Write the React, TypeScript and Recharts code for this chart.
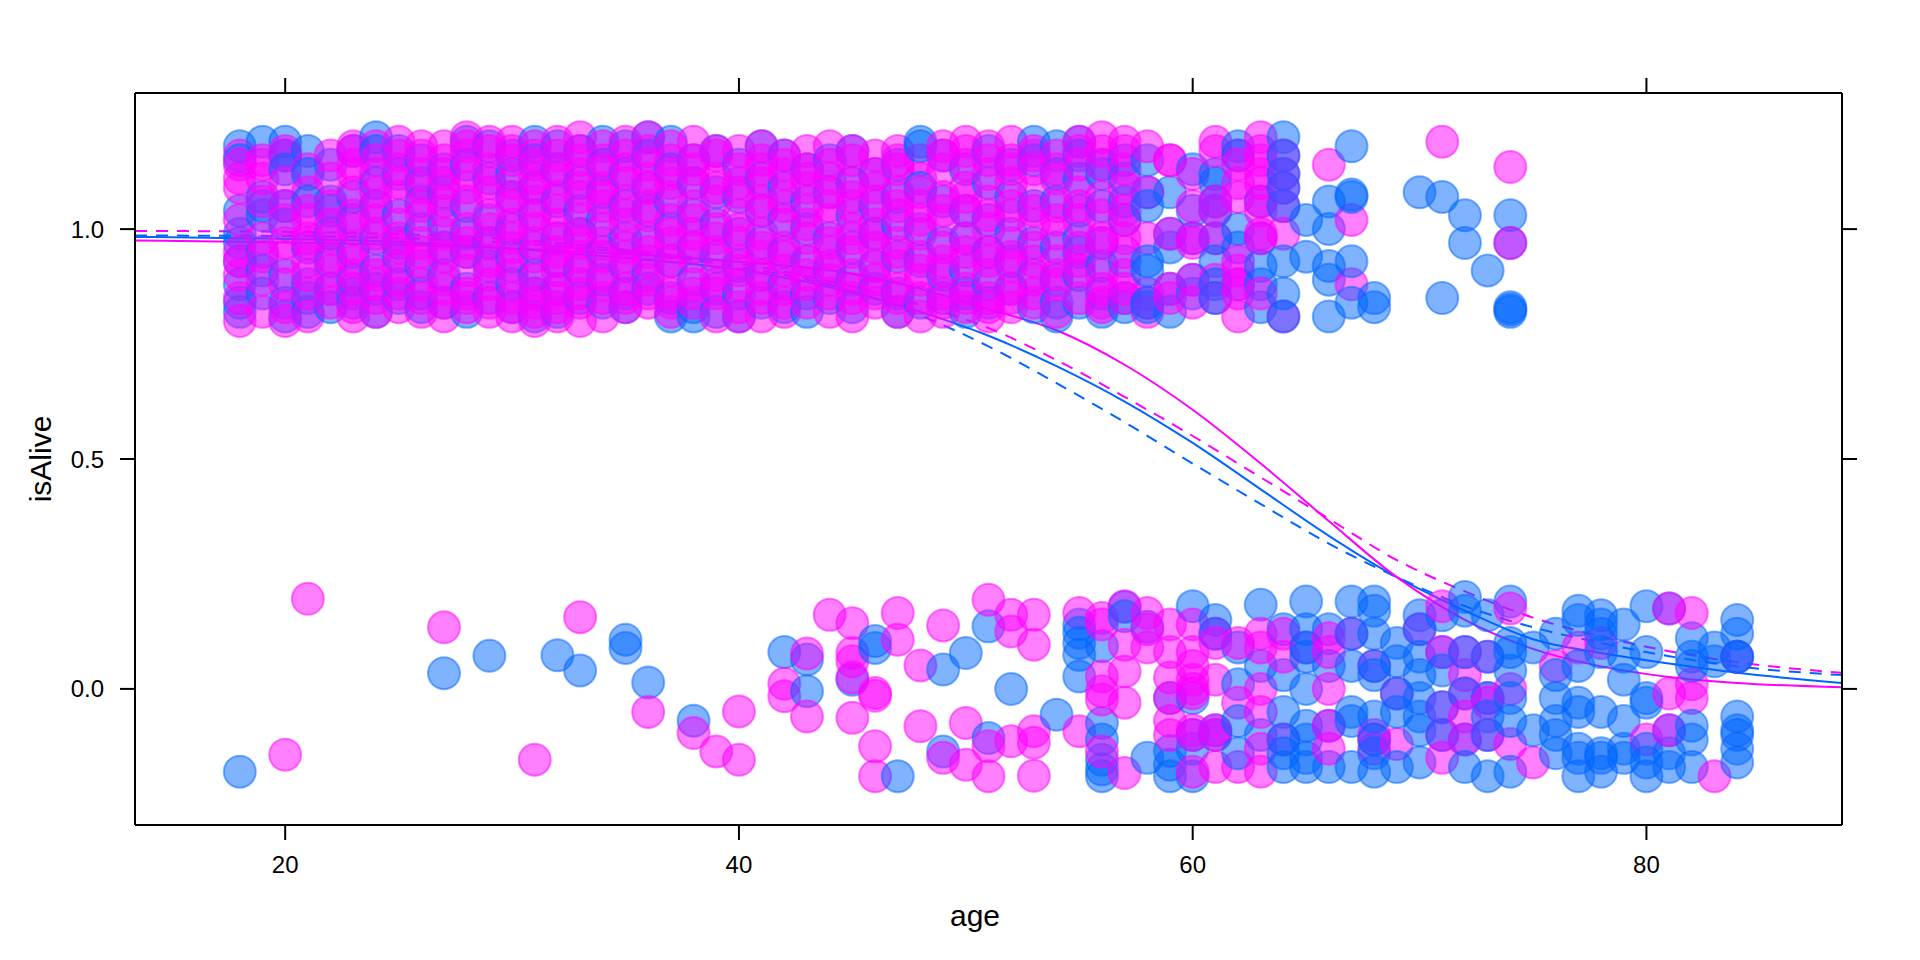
import { ComposedChart, Scatter, Line, XAxis, YAxis, Label } from 'recharts';

// axis ticks
const xTicks = [20, 40, 60, 80];
const yTicks = [0, 0.5, 1];

// fitted curves at these ages
const curveAges = [13.38, 20, 25, 30, 35, 40, 45, 48, 51, 54, 57, 60, 63, 66, 69, 72, 75, 78, 81, 84, 88.62];
const blueFit = [0.983, 0.979, 0.972, 0.958, 0.937, 0.912, 0.862, 0.82, 0.768, 0.702, 0.625, 0.535, 0.434, 0.333, 0.243, 0.17, 0.108, 0.078, 0.055, 0.035, 0.013];
const blueSmooth = [0.986, 0.985, 0.98, 0.97, 0.95, 0.918, 0.865, 0.812, 0.745, 0.665, 0.58, 0.49, 0.402, 0.316, 0.243, 0.18, 0.134, 0.1, 0.071, 0.049, 0.03];
const magentaFit = [0.975, 0.971, 0.966, 0.958, 0.946, 0.929, 0.903, 0.87, 0.826, 0.78, 0.705, 0.607, 0.49, 0.365, 0.243, 0.15, 0.087, 0.049, 0.026, 0.013, 0.0035];
const magentaSmooth = [0.996, 0.994, 0.989, 0.978, 0.955, 0.925, 0.875, 0.835, 0.785, 0.715, 0.635, 0.55, 0.46, 0.37, 0.28, 0.212, 0.155, 0.114, 0.082, 0.058, 0.035];

// jittered isAlive values per age: [age, values]
const aliveBlue: [number, number[]][] = [
  [18, [1.18, 1.15, 1.04, 0.99, 0.97, 0.93, 0.88, 0.84, 0.82]],
  [19, [1.19, 1.07, 1.05, 1.03, 0.95, 0.91, 0.86]],
  [20, [1.19, 1.16, 1.13, 1.05, 1.01, 0.9, 0.84, 0.81]],
  [21, [1.17, 1.12, 1.06, 0.96, 0.88, 0.85, 0.82]],
  [22, [1.14, 1.06, 1.04, 0.99, 0.93, 0.87, 0.83]],
  [23, [1.17, 1.07, 1.02, 0.95, 0.89, 0.86, 0.84]],
  [24, [1.2, 1.17, 1.1, 1.05, 0.98, 0.91, 0.87, 0.82]],
  [25, [1.17, 1.12, 1.03, 0.97, 0.94, 0.88, 0.85]],
  [26, [1.15, 1.1, 1.06, 1.0, 0.92, 0.86, 0.83]],
  [27, [1.13, 1.08, 1.01, 0.96, 0.9, 0.84]],
  [28, [1.19, 1.14, 1.05, 0.99, 0.95, 0.87, 0.82]],
  [29, [1.18, 1.11, 1.02, 0.97, 0.92, 0.85]],
  [30, [1.16, 1.12, 1.07, 1.0, 0.94, 0.88, 0.83]],
  [31, [1.19, 1.15, 1.09, 1.03, 0.96, 0.9, 0.86, 0.81]],
  [32, [1.18, 1.13, 1.06, 0.98, 0.93, 0.87, 0.82]],
  [33, [1.17, 1.1, 1.04, 0.99, 0.91, 0.85]],
  [34, [1.19, 1.14, 1.08, 1.02, 0.95, 0.89, 0.84]],
  [35, [1.18, 1.12, 1.05, 0.98, 0.92, 0.86, 0.83]],
  [36, [1.2, 1.16, 1.09, 1.04, 0.97, 0.9, 0.87]],
  [37, [1.19, 1.13, 1.06, 1.0, 0.93, 0.85, 0.81]],
  [38, [1.15, 1.1, 1.03, 0.96, 0.89, 0.83, 0.81]],
  [39, [1.17, 1.08, 1.01, 0.94, 0.87, 0.82]],
  [40, [1.14, 1.07, 0.99, 0.92, 0.86, 0.81]],
  [41, [1.18, 1.11, 1.04, 0.97, 0.9, 0.84]],
  [42, [1.16, 1.09, 1.02, 0.95, 0.88, 0.83]],
  [43, [1.13, 1.06, 1.0, 0.93, 0.86, 0.82]],
  [44, [1.15, 1.08, 0.98, 0.91, 0.85]],
  [45, [1.17, 1.1, 1.03, 0.96, 0.89, 0.83]],
  [46, [1.12, 1.05, 0.99, 0.92, 0.87]],
  [47, [1.14, 1.07, 1.01, 0.94, 0.86, 0.82]],
  [48, [1.19, 1.18, 1.09, 1.0, 0.93, 0.84]],
  [49, [1.16, 1.06, 0.97, 0.9, 0.85]],
  [50, [1.13, 1.04, 0.98, 0.91, 0.86, 0.82]],
  [51, [1.17, 1.1, 1.02, 0.95, 0.88, 0.84]],
  [52, [1.14, 1.07, 0.99, 0.93, 0.87]],
  [53, [1.19, 1.15, 1.05, 0.97, 0.9, 0.83]],
  [54, [1.18, 1.12, 1.06, 0.96, 0.89, 0.84, 0.81]],
  [55, [1.19, 1.16, 1.11, 1.04, 0.98, 0.95, 0.9, 0.84]],
  [56, [1.14, 1.12, 1.05, 0.97, 0.92, 0.86, 0.82]],
  [57, [1.15, 1.11, 1.06, 1.02, 0.93, 0.85, 0.83]],
  [58, [1.15, 1.08, 1.05, 0.93, 0.91, 0.84, 0.83]],
  [59, [1.08, 0.99, 0.96, 0.87, 0.82]],
  [60, [1.13, 1.04, 0.98, 0.89, 0.86]],
  [61, [1.12, 1.1, 1.06, 1.04, 0.98, 0.93, 0.88, 0.85]],
  [62, [1.18, 1.16, 1.0, 0.96, 0.88]],
  [63, [1.06, 0.98, 0.92, 0.88, 0.83]],
  [64, [1.2, 1.16, 1.12, 1.09, 1.05, 0.93, 0.86, 0.81]],
  [65, [1.02, 0.94]],
  [66, [1.06, 1.0, 0.92, 0.89, 0.81]],
  [67, [1.18, 1.07, 1.075, 0.93, 0.84]],
  [68, [0.85, 0.83]],
  [70, [1.08]],
  [71, [1.07, 0.85]],
  [72, [1.03, 0.97]],
  [73, [0.91]],
  [74, [1.03, 0.97, 0.83, 0.82, 0.825]],
];

const aliveMagenta: [number, number[]][] = [
  [18, [1.16, 1.14, 1.11, 1.09, 1.02, 0.95, 0.93, 0.9, 0.85, 0.8]],
  [19, [1.15, 1.14, 1.11, 1.06, 0.98, 0.94, 0.89, 0.82]],
  [20, [1.17, 1.16, 1.1, 1.05, 1.02, 0.97, 0.94, 0.88, 0.83, 0.8]],
  [21, [1.13, 1.08, 1.04, 1.02, 0.98, 0.97, 0.93, 0.9, 0.86, 0.81]],
  [22, [1.16, 1.11, 1.05, 1.01, 0.98, 0.94, 0.91, 0.87, 0.84]],
  [23, [1.18, 1.17, 1.14, 1.12, 1.08, 1.03, 1.0, 0.96, 0.93, 0.9, 0.87, 0.83, 0.81]],
  [24, [1.18, 1.15, 1.12, 1.08, 1.05, 1.02, 0.99, 0.95, 0.9, 0.88, 0.85, 0.82]],
  [25, [1.19, 1.16, 1.13, 1.1, 1.07, 1.01, 0.98, 0.96, 0.92, 0.89, 0.86, 0.83]],
  [26, [1.18, 1.16, 1.12, 1.09, 1.05, 1.03, 0.97, 0.95, 0.93, 0.88, 0.85, 0.82]],
  [27, [1.18, 1.15, 1.12, 1.1, 1.06, 1.04, 0.99, 0.96, 0.94, 0.89, 0.87, 0.84, 0.81]],
  [28, [1.2, 1.18, 1.16, 1.12, 1.09, 1.06, 1.0, 0.97, 0.95, 0.91, 0.86, 0.85, 0.83]],
  [29, [1.19, 1.17, 1.13, 1.1, 1.08, 1.03, 1.0, 0.97, 0.93, 0.9, 0.88, 0.84, 0.82]],
  [30, [1.19, 1.17, 1.15, 1.1, 1.07, 1.05, 1.01, 0.98, 0.96, 0.92, 0.9, 0.85, 0.83, 0.81]],
  [31, [1.18, 1.16, 1.14, 1.11, 1.09, 1.06, 1.03, 1.0, 0.97, 0.94, 0.89, 0.86, 0.84, 0.82, 0.8]],
  [32, [1.19, 1.16, 1.13, 1.11, 1.07, 1.04, 1.01, 0.98, 0.95, 0.93, 0.91, 0.87, 0.85, 0.83, 0.81]],
  [33, [1.2, 1.17, 1.15, 1.12, 1.09, 1.07, 1.02, 0.99, 0.97, 0.94, 0.92, 0.88, 0.86, 0.84, 0.8]],
  [34, [1.18, 1.15, 1.13, 1.09, 1.07, 1.05, 1.0, 0.97, 0.94, 0.9, 0.88, 0.85, 0.81]],
  [35, [1.19, 1.16, 1.13, 1.1, 1.06, 1.03, 1.01, 0.96, 0.94, 0.92, 0.87, 0.85, 0.83]],
  [36, [1.2, 1.17, 1.14, 1.11, 1.09, 1.05, 1.03, 0.98, 0.95, 0.93, 0.89, 0.86, 0.84]],
  [37, [1.18, 1.15, 1.12, 1.1, 1.07, 1.02, 0.99, 0.97, 0.93, 0.91, 0.86, 0.84, 0.82]],
  [38, [1.19, 1.15, 1.13, 1.1, 1.05, 1.02, 0.99, 0.96, 0.94, 0.88, 0.86, 0.84]],
  [39, [1.17, 1.16, 1.11, 1.09, 1.06, 1.0, 0.98, 0.95, 0.9, 0.88, 0.86, 0.81]],
  [40, [1.17, 1.13, 1.1, 1.08, 1.03, 1.0, 0.97, 0.93, 0.91, 0.88, 0.83, 0.81]],
  [41, [1.18, 1.15, 1.13, 1.1, 1.06, 1.04, 0.99, 0.96, 0.94, 0.9, 0.87, 0.85, 0.81]],
  [42, [1.16, 1.14, 1.12, 1.07, 1.05, 1.01, 0.96, 0.94, 0.91, 0.87, 0.84, 0.82]],
  [43, [1.17, 1.13, 1.11, 1.09, 1.04, 1.01, 0.98, 0.93, 0.9, 0.88, 0.84]],
  [44, [1.18, 1.14, 1.11, 1.08, 1.05, 1.02, 0.97, 0.95, 0.92, 0.89, 0.86, 0.82]],
  [45, [1.17, 1.15, 1.1, 1.07, 1.05, 1.0, 0.98, 0.95, 0.9, 0.87, 0.85, 0.81]],
  [46, [1.16, 1.12, 1.09, 1.06, 1.01, 0.99, 0.96, 0.92, 0.89, 0.86, 0.84]],
  [47, [1.17, 1.15, 1.13, 1.08, 1.05, 1.03, 0.97, 0.95, 0.92, 0.87, 0.85, 0.82]],
  [48, [1.15, 1.11, 1.08, 1.05, 1.02, 0.99, 0.94, 0.91, 0.89, 0.85, 0.81]],
  [49, [1.18, 1.16, 1.13, 1.07, 1.04, 1.02, 0.96, 0.93, 0.91, 0.86, 0.84, 0.82]],
  [50, [1.19, 1.17, 1.14, 1.09, 1.07, 1.04, 0.98, 0.95, 0.93, 0.87, 0.85, 0.83]],
  [51, [1.18, 1.15, 1.12, 1.06, 1.03, 1.0, 0.95, 0.93, 0.9, 0.85, 0.83, 0.81]],
  [52, [1.19, 1.15, 1.13, 1.1, 1.05, 1.03, 0.97, 0.94, 0.92, 0.87, 0.85, 0.83]],
  [53, [1.17, 1.16, 1.13, 1.08, 1.04, 1.01, 0.96, 0.93, 0.89, 0.86, 0.84]],
  [54, [1.16, 1.13, 1.11, 1.05, 1.02, 0.99, 0.93, 0.9, 0.88, 0.82]],
  [55, [1.19, 1.17, 1.14, 1.08, 1.05, 1.02, 0.96, 0.93, 0.91, 0.85]],
  [56, [1.2, 1.17, 1.14, 1.07, 1.03, 0.98, 0.97, 0.9, 0.87, 0.84, 0.83]],
  [57, [1.19, 1.17, 1.13, 1.09, 1.04, 1.02, 0.98, 0.95, 0.9, 0.87, 0.85]],
  [58, [1.18, 1.08, 0.98, 0.86, 0.84, 0.82]],
  [59, [1.15, 1.15, 0.99, 0.87, 0.85]],
  [60, [1.12, 1.05, 0.97, 0.98, 0.89, 0.84]],
  [61, [1.19, 1.17, 1.06, 1.04, 0.98, 0.89, 0.85]],
  [62, [1.16, 1.14, 1.1, 1.07, 0.93, 0.91, 0.88, 0.86, 0.81]],
  [63, [1.2, 1.17, 1.15, 1.12, 1.1, 1.06, 1.04, 0.99, 0.98, 0.86]],
  [64, [1.16, 1.12, 1.09, 1.05, 0.99, 0.81]],
  [66, [1.14]],
  [67, [1.02, 0.88]],
  [71, [1.19]],
  [74, [1.135, 0.97]],
];

const deadBlue: [number, number[]][] = [
  [18, [-0.18]],
  [27, [0.034]],
  [29, [0.072]],
  [32, [0.073]],
  [33, [0.04]],
  [35, [0.107, 0.089]],
  [36, [0.014]],
  [38, [-0.069]],
  [42, [0.08]],
  [43, [0.064, -0.005]],
  [45, [0.02]],
  [46, [0.104, 0.089]],
  [47, [-0.19]],
  [49, [0.042, -0.136]],
  [50, [0.078]],
  [51, [0.136, -0.107]],
  [52, [0.0]],
  [54, [-0.056]],
  [55, [0.14, 0.122, 0.1, 0.074, 0.027]],
  [56, [0.093, -0.074, -0.11, -0.154, -0.19, -0.175]],
  [57, [0.178, 0.158]],
  [58, [0.135, -0.15]],
  [59, [-0.02, -0.135, -0.165, -0.19]],
  [60, [0.18, -0.02, -0.1, -0.13, -0.19]],
  [61, [0.15, 0.12, -0.09, -0.1]],
  [62, [0.09, 0.01, -0.07, -0.14]],
  [63, [0.183, 0.05, -0.1]],
  [64, [0.13, 0.03, -0.05, -0.11, -0.14, -0.17]],
  [65, [0.19, 0.13, 0.09, 0.07, 0.0, -0.08, -0.11, -0.15, -0.17]],
  [66, [0.13, 0.05, -0.08, -0.17]],
  [67, [0.19, 0.12, 0.05, -0.05, -0.07, -0.17]],
  [68, [0.19, 0.17, 0.12, 0.05, 0.03, -0.06, -0.11, -0.14, -0.18]],
  [69, [0.1, 0.06, -0.01, -0.05, -0.17]],
  [70, [0.16, 0.13, 0.07, 0.03, -0.02, -0.06, -0.09, -0.16]],
  [71, [0.16, 0.08, 0.04, -0.04, -0.1]],
  [72, [0.2, 0.17, 0.08, -0.01, -0.11, -0.17]],
  [73, [0.16, 0.07, -0.02, -0.06, -0.1, -0.19]],
  [74, [0.19, 0.1, 0.08, 0.04, -0.02, -0.07, -0.18]],
  [75, [0.09, -0.09]],
  [76, [0.12, 0.03, -0.02, -0.07, -0.1, -0.14]],
  [77, [0.17, 0.15, 0.05, -0.03, -0.05, -0.13, -0.15, -0.19]],
  [78, [0.16, 0.14, 0.12, 0.08, -0.05, -0.14, -0.15, -0.18]],
  [79, [0.14, 0.07, 0.02, -0.07, -0.13, -0.15]],
  [80, [0.18, 0.08, -0.02, -0.03, -0.13, -0.16, -0.19]],
  [81, [0.175, -0.09, -0.14, -0.17]],
  [82, [0.11, 0.07, 0.05, -0.08, -0.11, -0.17]],
  [83, [0.09, 0.06]],
  [84, [0.15, 0.12, 0.07, 0.07, -0.06, -0.09, -0.1, -0.13, -0.16]],
];

const deadMagenta: [number, number[]][] = [
  [20, [-0.143]],
  [21, [0.196]],
  [27, [0.134]],
  [31, [-0.154]],
  [33, [0.156]],
  [36, [-0.05]],
  [38, [-0.096]],
  [39, [-0.136]],
  [40, [-0.049, -0.154]],
  [42, [0.011, -0.016]],
  [43, [0.077, -0.06]],
  [44, [0.161]],
  [45, [0.143, 0.078, 0.06, 0.025, -0.063]],
  [46, [-0.009, -0.015, -0.125, -0.19]],
  [47, [0.165, 0.107]],
  [48, [0.051, -0.081]],
  [49, [0.138, -0.15]],
  [50, [-0.074, -0.165]],
  [51, [0.194, -0.125, -0.19]],
  [52, [0.161, 0.125, -0.114]],
  [53, [0.161, 0.096, -0.092, -0.117, -0.189]],
  [55, [0.165, -0.092]],
  [56, [0.154, 0.14, 0.027, -0.005, -0.023, -0.136]],
  [57, [0.18, 0.096, 0.038, -0.03, -0.183]],
  [58, [0.165, 0.13, 0.09]],
  [59, [0.14, 0.08, 0.025, -0.02, -0.07, -0.1]],
  [60, [0.14, 0.08, 0.05, 0.02, 0.0, -0.01, -0.09, -0.1, -0.18]],
  [61, [0.12, 0.1, 0.02, -0.09, -0.1, -0.17]],
  [62, [0.1, -0.03, -0.17]],
  [63, [0.12, 0.09, 0.0, -0.05, -0.13, -0.18]],
  [64, [0.12, 0.07, -0.11]],
  [65, [0.09]],
  [66, [0.11, 0.08, 0.0, -0.08, -0.13]],
  [67, [0.12]],
  [68, [0.05, -0.1, -0.11, -0.13]],
  [69, [-0.01, -0.12]],
  [70, [0.13]],
  [71, [0.18, 0.08, -0.04, -0.1, -0.15]],
  [72, [0.08, 0.03, -0.01, -0.06, -0.11]],
  [73, [0.07, -0.02, -0.03, -0.1]],
  [74, [0.175, 0.0, -0.12]],
  [75, [-0.16]],
  [76, [0.05]],
  [77, [0.09]],
  [78, [0.1]],
  [80, [-0.11]],
  [81, [0.175, -0.01, -0.09]],
  [82, [0.165, 0.01, -0.02]],
  [83, [-0.19]],
  [84, [0.07]],
];

const BLUE = '#0066ff';
const MAGENTA = '#ff00ff';
const FONT = '"Liberation Sans", Arial, Helvetica, sans-serif';

type Pt = { age: number; v: number; g: 'b' | 'm' };

// mix the two groups column by column so neither colour sits fully on top
function mergeGroups(blue: [number, number[]][], magenta: [number, number[]][]): Pt[] {
  const out: Pt[] = [];
  const ages = Array.from(new Set([...blue.map((d) => d[0]), ...magenta.map((d) => d[0])])).sort((a, b) => a - b);
  for (const age of ages) {
    const b = blue.find((d) => d[0] === age)?.[1] ?? [];
    const m = magenta.find((d) => d[0] === age)?.[1] ?? [];
    const n = Math.max(b.length, m.length);
    for (let i = 0; i < n; i++) {
      if (i < b.length) out.push({ age, v: b[i], g: 'b' });
      if (i < m.length) out.push({ age, v: m[i], g: 'm' });
    }
  }
  return out;
}

const points = [...mergeGroups(deadBlue, deadMagenta), ...mergeGroups(aliveBlue, aliveMagenta)];

const toCurve = (vals: number[]) => curveAges.map((age, i) => ({ age, v: vals[i] }));

function Dot(props: any) {
  const { cx, cy, payload } = props;
  const c = payload.g === 'b' ? BLUE : MAGENTA;
  return <circle cx={cx} cy={cy} r={16} fill={c} fillOpacity={0.5} stroke={c} strokeOpacity={0.5} strokeWidth={2} />;
}

// tick marks only, no labels (top and right sides)
const NoLabel = () => <g />;

const tickStyle = { fontSize: 24, fill: '#000', fontFamily: FONT };
const axisLine = { stroke: '#000', strokeWidth: 2 };

export default function App() {
  return (
    <div style={{ position: 'absolute', left: 0, top: 0, width: 1920, height: 960, background: '#fff' }}>
      <ComposedChart width={1920} height={960} margin={{ top: 0, right: 0, bottom: 0, left: 0 }}>
        <XAxis
          dataKey="age"
          type="number"
          domain={[13.38, 88.62]}
          allowDataOverflow
          ticks={xTicks}
          height={135}
          tickSize={15}
          tickMargin={16}
          tick={tickStyle}
          axisLine={axisLine}
          tickLine={axisLine}
        >
          <Label
            content={() => (
              <text x={975} y={926} textAnchor="middle" fontSize={30} fontFamily={FONT} fill="#000">
                age
              </text>
            )}
          />
        </XAxis>
        <XAxis
          xAxisId="top"
          dataKey="age"
          orientation="top"
          type="number"
          domain={[13.38, 88.62]}
          allowDataOverflow
          ticks={xTicks}
          interval={0}
          height={93}
          tickSize={15}
          tick={NoLabel}
          axisLine={axisLine}
          tickLine={axisLine}
        />
        <YAxis
          dataKey="v"
          type="number"
          domain={[-0.296, 1.296]}
          allowDataOverflow
          ticks={yTicks}
          width={135}
          tickSize={15}
          tickMargin={16}
          tick={tickStyle}
          tickFormatter={(v: number) => v.toFixed(1)}
          axisLine={axisLine}
          tickLine={axisLine}
        >
          <Label
            content={() => (
              <text x={51} y={459} transform="rotate(-90 51 459)" textAnchor="middle" fontSize={30} fontFamily={FONT} fill="#000">
                isAlive
              </text>
            )}
          />
        </YAxis>
        <YAxis
          yAxisId="right"
          dataKey="v"
          orientation="right"
          type="number"
          domain={[-0.296, 1.296]}
          allowDataOverflow
          ticks={yTicks}
          interval={0}
          width={78}
          tickSize={15}
          tick={NoLabel}
          axisLine={axisLine}
          tickLine={axisLine}
        />
        <Scatter data={points} shape={Dot} isAnimationActive={false} />
        <Line data={toCurve(blueFit)} dataKey="v" type="monotone" stroke={BLUE} strokeWidth={2} dot={false} isAnimationActive={false} />
        <Line data={toCurve(blueSmooth)} dataKey="v" type="monotone" stroke={BLUE} strokeWidth={2} strokeDasharray="12 9" dot={false} isAnimationActive={false} />
        <Line data={toCurve(magentaFit)} dataKey="v" type="monotone" stroke={MAGENTA} strokeWidth={2} dot={false} isAnimationActive={false} />
        <Line data={toCurve(magentaSmooth)} dataKey="v" type="monotone" stroke={MAGENTA} strokeWidth={2} strokeDasharray="12 9" dot={false} isAnimationActive={false} />
      </ComposedChart>
    </div>
  );
}
